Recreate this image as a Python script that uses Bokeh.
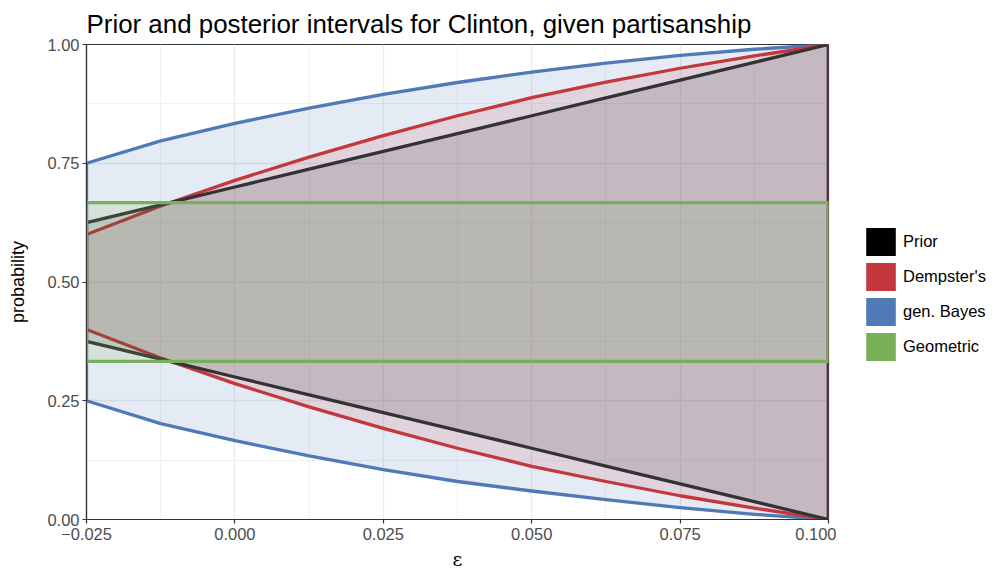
from bokeh.plotting import figure
from bokeh.models import Range1d, FixedTicker, Legend, LegendItem
from bokeh.layouts import row
from bokeh.embed import file_html
from bokeh.resources import INLINE

# ---- data ----
eps = [-0.025, -0.0125, 0.0, 0.0125, 0.025, 0.0375, 0.05, 0.0625, 0.075, 0.0875, 0.1]

prior_upper = [0.625, 0.6625, 0.700, 0.7375, 0.775, 0.8125, 0.850, 0.8875, 0.925, 0.9625, 1.0]
prior_lower = [0.375, 0.3375, 0.300, 0.2625, 0.225, 0.1875, 0.150, 0.1125, 0.075, 0.0375, 0.0]

dempster_upper = [0.600, 0.660, 0.714, 0.763, 0.808, 0.850, 0.888, 0.921, 0.950, 0.976, 1.0]
dempster_lower = [0.400, 0.340, 0.286, 0.237, 0.192, 0.150, 0.112, 0.080, 0.050, 0.024, 0.0]

bayes_upper = [0.750, 0.797, 0.834, 0.866, 0.895, 0.920, 0.942, 0.961, 0.977, 0.990, 1.0]
bayes_lower = [0.250, 0.202, 0.166, 0.134, 0.105, 0.080, 0.060, 0.042, 0.025, 0.011, 0.0]

geo_upper = [0.667] * len(eps)
geo_lower = [0.333] * len(eps)

methods = ["Prior", "Dempster's", "gen. Bayes", "Geometric"]
colors = ["#000000", "#C3373D", "#507AB5", "#78B05A"]
bands = {"Prior": (prior_lower, prior_upper),
         "Dempster's": (dempster_lower, dempster_upper),
         "gen. Bayes": (bayes_lower, bayes_upper),
         "Geometric": (geo_lower, geo_upper)}

x_ticks = [-0.025, 0.0, 0.025, 0.05, 0.075, 0.1]
x_tick_labels = ["\u22120.025", "0.000", "0.025", "0.050", "0.075", "0.100"]
x_minor = [-0.0125, 0.0125, 0.0375, 0.0625, 0.0875]
y_ticks = [0.0, 0.25, 0.5, 0.75, 1.0]
y_tick_labels = ["0.00", "0.25", "0.50", "0.75", "1.00"]
y_minor = [0.125, 0.375, 0.625, 0.875]

FONT = "Liberation Sans"
TOTAL_W, TOTAL_H = 995, 572
MAIN_W = 836

p = figure(width=MAIN_W, height=TOTAL_H, output_backend="svg", toolbar_location=None,
           x_range=Range1d(-0.025, 0.1), y_range=Range1d(0, 1),
           min_border_left=86, min_border_right=8, min_border_top=44, min_border_bottom=53,
           title="Prior and posterior intervals for Clinton, given partisanship")

p.title.text_font = FONT
p.title.text_font_size = "25.9px"
p.title.text_font_style = "normal"
p.title.text_color = "#000000"
p.title.offset = 0
p.title.standoff = 14

p.background_fill_color = "white"
p.border_fill_color = "white"
p.outline_line_color = "#333333"
p.outline_line_width = 1.2

# axes
p.xaxis.ticker = FixedTicker(ticks=x_ticks, minor_ticks=x_minor)
p.yaxis.ticker = FixedTicker(ticks=y_ticks, minor_ticks=y_minor)
p.xaxis.major_label_overrides = {t: l for t, l in zip(x_ticks, x_tick_labels)}
p.yaxis.major_label_overrides = {t: l for t, l in zip(y_ticks, y_tick_labels)}
for ax in (p.xaxis, p.yaxis):
    ax.axis_line_color = "#333333"
    ax.axis_line_width = 1.2
    ax.major_tick_line_color = "#333333"
    ax.major_tick_line_width = 1.2
    ax.major_tick_out = 4
    ax.major_tick_in = 0
    ax.minor_tick_line_color = None
    ax.major_label_text_font = FONT
    ax.major_label_text_font_size = "16.5px"
    ax.major_label_text_color = "#4d4d4d"
    ax.axis_label_text_font = FONT
    ax.axis_label_text_font_style = "normal"
    ax.axis_label_text_color = "#000000"

p.xaxis.major_label_standoff = 4
p.yaxis.major_label_standoff = 3
p.xaxis.axis_label = "\u03b5"
p.xaxis.axis_label_text_font = "DejaVu Serif"
p.xaxis.axis_label_text_font_size = "19px"
p.xaxis.axis_label_standoff = 5
p.yaxis.axis_label = "probability"
p.yaxis.axis_label_text_font_size = "18px"
p.yaxis.axis_label_standoff = 16

# grid
for g in (p.xgrid, p.ygrid):
    g.grid_line_color = "#ebebeb"
    g.grid_line_width = 1.3
    g.minor_grid_line_color = "#ebebeb"
    g.minor_grid_line_width = 0.7

# bands as filled polygons with outlines
draw_order = ["gen. Bayes", "Dempster's", "Prior", "Geometric"]
fill_alpha = {"gen. Bayes": 0.15, "Dempster's": 0.13, "Prior": 0.12, "Geometric": 0.15}
outline = {"gen. Bayes": "#507AB5", "Dempster's": "#C3373D", "Prior": "#333333", "Geometric": "#78B05A"}
for m in draw_order:
    lo, hi = bands[m]
    c = colors[methods.index(m)]
    xs = list(eps) + list(reversed(eps))
    ys = list(hi) + list(reversed(lo))
    p.patch(xs, ys, fill_color=c, fill_alpha=fill_alpha[m], line_color=outline[m],
            line_width=3.3, line_join="round")

# ---- legend panel (separate figure to the right) ----
lg = figure(width=TOTAL_W - MAIN_W, height=TOTAL_H, output_backend="svg", toolbar_location=None,
            x_range=Range1d(0, 1), y_range=Range1d(0, 1),
            min_border_left=0, min_border_right=0, min_border_top=0, min_border_bottom=0)
lg.axis.visible = False
lg.grid.visible = False
lg.outline_line_color = None
lg.background_fill_color = "white"
lg.border_fill_color = "white"

items = []
for m, c in zip(methods, colors):
    r = lg.quad(left=[2.0], right=[3.0], top=[3.0], bottom=[2.0], fill_color=c, line_color=None)
    items.append(LegendItem(label=m, renderers=[r]))

legend = Legend(items=items, location=(26, 155), orientation="vertical",
                glyph_width=37, glyph_height=35, spacing=0, padding=0, margin=0,
                label_standoff=4, label_text_font=FONT, label_text_font_size="16.5px",
                label_text_color="#000000", border_line_color=None,
                background_fill_alpha=0)
lg.add_layout(legend, "center")

layout = row(p, lg, spacing=0)
open("out.html", "w").write(file_html(layout, INLINE))
